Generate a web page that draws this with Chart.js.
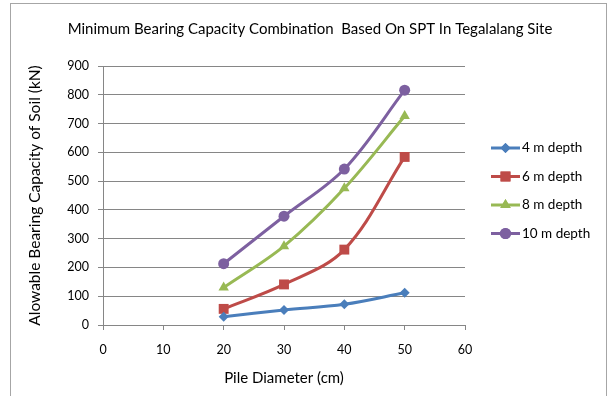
<!DOCTYPE html>
<html><head><meta charset="utf-8">
<script src="https://cdn.jsdelivr.net/npm/chart.js@4/dist/chart.umd.min.js"></script>
<style>html,body{margin:0;padding:0;background:#fff}#wrap{width:614px;height:396px;position:relative}</style>
</head><body><div id="wrap"><canvas id="c" width="614" height="396"></canvas></div>
<script>
const diameters = [20, 30, 40, 50];
const depth4 = [29, 52, 72, 112];
const depth6 = [56, 141, 262, 584];
const depth8 = [130, 274, 475, 726];
const depth10 = [213, 378, 542, 816];
const seriesNames = ['4 m depth', '6 m depth', '8 m depth', '10 m depth'];
const xTicks = [0, 10, 20, 30, 40, 50, 60];
const yTicks = [0, 100, 200, 300, 400, 500, 600, 700, 800, 900];
const chartTitle = 'Minimum Bearing Capacity Combination  Based On SPT In Tegalalang Site';
const xTitle = 'Pile Diameter (cm)';
const yTitle = 'Alowable Bearing Capacity of Soil (kN)';

const FONT = 'Lato, "Open Sans", sans-serif';
const colors = ['#4A7EBB', '#BE4B48', '#98B954', '#7D60A0'];
const styles = ['rectRot', 'rect', 'triangle', 'circle'];
const radii = [5, 7, 6, 5.5];
const values = [depth4, depth6, depth8, depth10];

const datasets = values.map((v, i) => ({
  label: seriesNames[i],
  data: diameters.map((d, j) => ({x: d, y: v[j]})),
  borderColor: colors[i],
  backgroundColor: colors[i],
  borderWidth: 3,
  pointStyle: styles[i],
  pointRadius: radii[i],
  pointBorderWidth: 0,
  pointBackgroundColor: colors[i],
  tension: 0.35,
  fill: false
}));

const framePlugin = {
  id: 'frame',
  beforeDraw(chart) {
    const ctx = chart.ctx;
    ctx.save();
    ctx.strokeStyle = '#A6A6A6';
    ctx.lineWidth = 1;
    ctx.strokeRect(10.5, 3.5, 596, 420);
    ctx.restore();
  }
};

const legendPlugin = {
  id: 'customLegend',
  afterDraw(chart) {
    const ctx = chart.ctx;
    ctx.save();
    chart.data.datasets.forEach((ds, i) => {
      const y = 148 + 28.5 * i;
      ctx.strokeStyle = ds.borderColor;
      ctx.lineWidth = 3;
      ctx.beginPath();
      ctx.moveTo(491, y);
      ctx.lineTo(520, y);
      ctx.stroke();
      ctx.fillStyle = ds.backgroundColor;
      Chart.helpers.drawPoint(ctx, {pointStyle: ds.pointStyle, radius: ds.pointRadius, rotation: 0, borderWidth: 0}, 505.5, y);
      ctx.fill();
      ctx.fillStyle = '#000';
      ctx.font = '13.5px ' + FONT;
      ctx.textBaseline = 'middle';
      ctx.textAlign = 'left';
      ctx.fillText(ds.label, 522, y);
    });
    ctx.restore();
  }
};

new Chart(document.getElementById('c'), {
  type: 'line',
  data: {datasets},
  options: {
    responsive: false,
    animation: false,
    devicePixelRatio: 1,
    layout: {padding: {left: 6, right: 0, top: 0, bottom: 0}},
    plugins: {
      legend: {display: false},
      tooltip: {enabled: false},
      title: {
        display: true,
        text: chartTitle,
        color: '#000',
        font: {family: FONT, size: 15, weight: 'normal'},
        padding: {top: 20, bottom: 28}
      }
    },
    scales: {
      x: {
        type: 'linear',
        min: 0, max: 60,
        afterBuildTicks(s) { s.ticks = xTicks.map(v => ({value: v})); },
        afterFit(s) { s.height = 71; },
        grid: {drawOnChartArea: false, drawTicks: true, tickLength: 5, color: '#868686'},
        border: {color: '#868686', width: 1},
        ticks: {color: '#000', font: {family: FONT, size: 12.5}, padding: 12, maxRotation: 0},
        title: {display: true, text: xTitle, color: '#000', font: {family: FONT, size: 15}, padding: {top: 0, bottom: 9}}
      },
      y: {
        type: 'linear',
        min: 0, max: 900,
        afterBuildTicks(s) { s.ticks = yTicks.map(v => ({value: v})); },
        afterFit(s) { s.width = 97; },
        grid: {color: '#868686', tickLength: 5, drawTicks: true},
        border: {color: '#868686', width: 1},
        ticks: {color: '#000', font: {family: FONT, size: 12.5}, padding: 9},
        title: {display: true, text: yTitle, color: '#000', font: {family: FONT, size: 15.5}, padding: {top: 20, bottom: 0}}
      },
      yr: {
        type: 'linear',
        position: 'right',
        display: true,
        afterFit(s) { s.width = 149; },
        grid: {display: false},
        border: {display: false},
        ticks: {display: false}
      }
    }
  },
  plugins: [framePlugin, legendPlugin]
});
</script></body></html>
